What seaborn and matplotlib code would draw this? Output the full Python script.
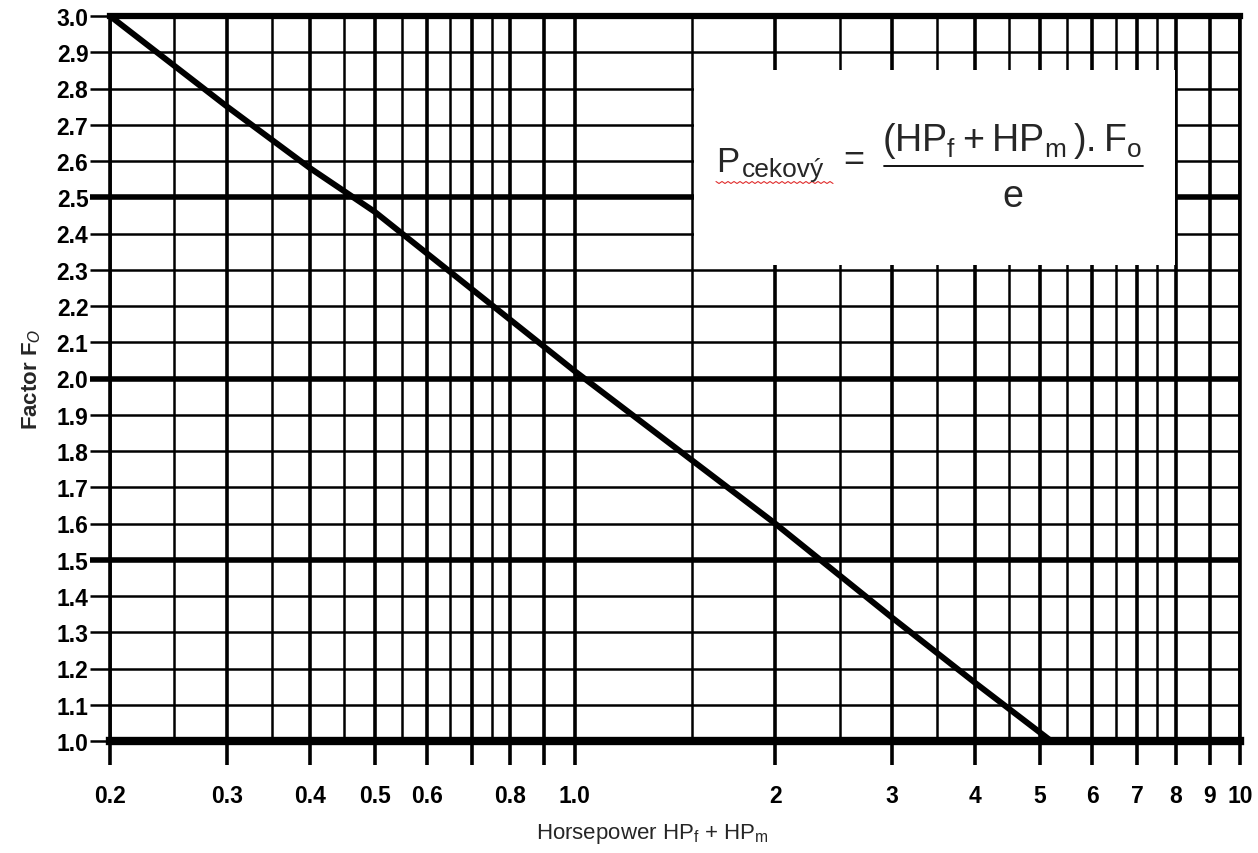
import numpy as np
import matplotlib
matplotlib.use('Agg')
import matplotlib.pyplot as plt
from matplotlib import font_manager
from matplotlib.ticker import FixedLocator, NullFormatter
from matplotlib.patches import Rectangle
from matplotlib.lines import Line2D
import seaborn as sns

sns.set_theme(style='white')

# curve (x is log scale)
hp = [0.2, 0.3, 0.4, 0.5, 1.0, 2.0, 3.0, 4.0, 5.2]
factor = [3.0, 2.75, 2.58, 2.46, 2.02, 1.6, 1.34, 1.16, 1.0]

x_major = [0.2, 0.3, 0.4, 0.5, 0.6, 0.7, 0.8, 0.9, 1.0, 2, 3, 4, 5, 6, 7, 8, 9, 10]
x_labels = ['0.2', '0.3', '0.4', '0.5', '0.6', '', '0.8', '', '1.0',
            '2', '3', '4', '5', '6', '7', '8', '9', '10']
x_minor = [0.25, 0.35, 0.45, 0.55, 0.65, 0.75, 1.5, 2.5, 3.5, 4.5, 5.5, 6.5, 7.5]
y_ticks = [1.0, 1.1, 1.2, 1.3, 1.4, 1.5, 1.6, 1.7, 1.8, 1.9, 2.0,
           2.1, 2.2, 2.3, 2.4, 2.5, 2.6, 2.7, 2.8, 2.9, 3.0]
y_labels = ['1.0', '1.1', '1.2', '1.3', '1.4', '1.5', '1.6', '1.7', '1.8', '1.9', '2.0',
            '2.1', '2.2', '2.3', '2.4', '2.5', '2.6', '2.7', '2.8', '2.9', '3.0']
thick_levels = [1.5, 2.0, 2.5]

names = {f.name for f in font_manager.fontManager.ttflist}
narrow = 'Liberation Sans Narrow' if 'Liberation Sans Narrow' in names else 'Liberation Sans'
plt.rcParams['font.family'] = ['Liberation Sans', 'DejaVu Sans']

fig = plt.figure(figsize=(12.58, 8.54), dpi=100)
ax = fig.add_axes([110/1258, 1 - 742/854, 1130/1258, 725/854])
ax.set_xscale('log')

# grid
ax.set_axisbelow(True)
ax.xaxis.set_major_locator(FixedLocator(x_major))
ax.xaxis.set_minor_locator(FixedLocator(x_minor))
ax.xaxis.set_minor_formatter(NullFormatter())
ax.set_xticks(x_major)
ax.set_xticklabels(x_labels, fontweight='bold', family=narrow, fontsize=16.5)
ax.set_yticks(y_ticks)
ax.set_yticklabels(y_labels, fontweight='bold', family=narrow, fontsize=16.5)
ax.grid(which='major', axis='x', color='black', lw=2.6)
ax.grid(which='minor', axis='x', color='black', lw=1.8)
ax.grid(which='major', axis='y', color='black', lw=1.8)
for lvl in thick_levels:
    ax.axhline(lvl, color='black', lw=4, zorder=1)

ax.tick_params(axis='x', which='major', bottom=True, length=17, width=2.6,
               color='black', pad=14, labelcolor='black')
ax.tick_params(axis='x', which='minor', bottom=False, length=0)
ax.tick_params(axis='y', which='major', left=True, length=14.5, width=1.8,
               color='black', pad=1, labelcolor='black')
for t, v in zip(ax.yaxis.get_major_ticks(), y_ticks):
    if v in thick_levels:
        t.tick1line.set_markeredgewidth(4)

for side, w in [('left', 2.6), ('right', 2.6), ('top', 4.5), ('bottom', 6)]:
    ax.spines[side].set_visible(True)
    ax.spines[side].set_color('black')
    ax.spines[side].set_linewidth(w)

sns.lineplot(x=hp, y=factor, ax=ax, color='black', lw=4.3, zorder=4)

ax.set_xlim(0.2, 10)
ax.set_ylim(1.0, 3.0)

ax.set_xlabel(r'Horsepower HP$\mathregular{_f}$ + HP$\mathregular{_m}$', family=narrow,
              fontsize=16, labelpad=10)
ax.set_ylabel('Factor F$_O$', fontweight='bold', fontsize=16, labelpad=10)
ax.xaxis.label.set_position((0.48, 0))

# formula box
ax.add_patch(Rectangle((0.517, 0.657), 0.4255, 0.2685, transform=ax.transAxes,
                       facecolor='white', edgecolor='none', zorder=3))

def fx(px):
    return px / 1258

def fy(py):
    return 1 - py / 854

fig.text(fx(716), fy(172), 'P', fontsize=25, va='baseline', ha='left')
fig.text(fx(742), fy(177), 'cekový', fontsize=19, va='baseline', ha='left')
zx = np.arange(716, 834, 3)
zy = np.where(np.arange(len(zx)) % 2 == 0, 182.5, 184.5)
fig.add_artist(Line2D(fx(zx), fy(zy), color='#e03030', lw=0.8))
fig.text(fx(854), fy(161), '=', fontsize=26, va='center', ha='center')
fig.add_artist(Line2D([fx(884), fx(1143)], [fy(167), fy(167)], color='black', lw=1.3))
fig.text(fx(1012), fy(151), r'$\mathregular{(HP_f + HP_m\,){.}F_o}$', fontsize=27,
         va='baseline', ha='center')
fig.text(fx(1013), fy(207), 'e', fontsize=27, va='baseline', ha='center')

fig.savefig('out.png', dpi=100)
